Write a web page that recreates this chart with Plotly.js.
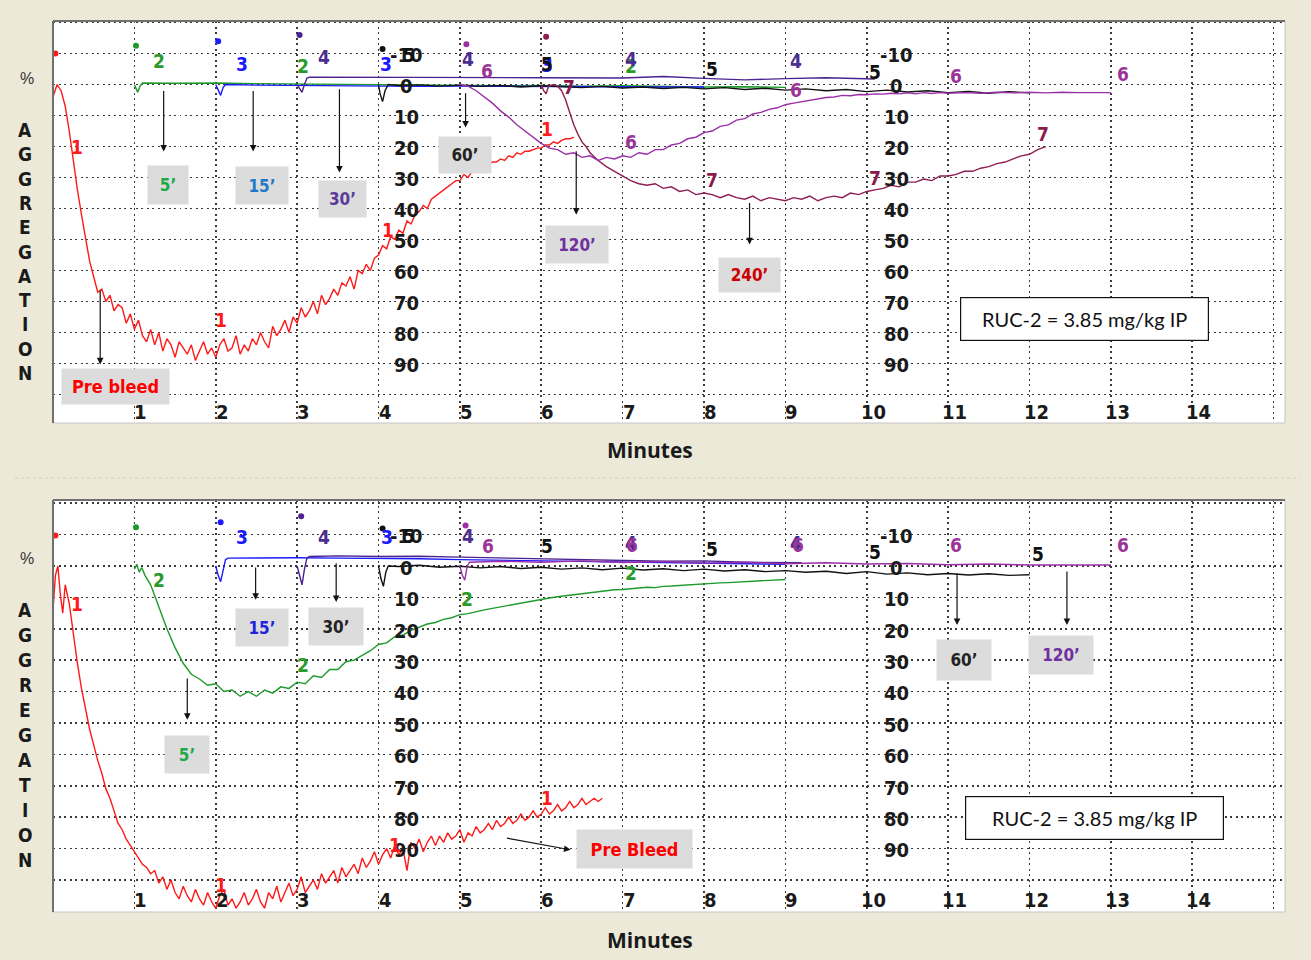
<!DOCTYPE html>
<html><head><meta charset="utf-8">
<script src="https://cdn.plot.ly/plotly-3.0.1.min.js"></script>
<style>html,body{margin:0;padding:0;background:#ECE9D8;} #chart{width:1311px;height:960px;}</style>
</head><body><div id="chart"></div>
<script>
// ---------------- DATA ----------------
// x tick labels (minutes) and aggregation scale labels
const xTickLabels = ['1','2','3','4','5','6','7','8','9','10','11','12','13','14'];
const xTickVals = [1,2,3,4,5,6,7,8,9,10,11,12,13,14];
const aggScaleLabels = ['-10','0','10','20','30','40','50','60','70','80','90'];
const aggScaleVals = [-10,0,10,20,30,40,50,60,70,80,90];

// ===== TOP PANEL =====
// Curve 1 (Pre bleed), sampled every 0.05 min from 0
const top1T0 = 0, top1Dt = 0.05;
const top1Y = [4,0,2,7,15,25,34,42,50,57,
 62,67,66,70,68,73,71,72,77,74,
 79,76,81,83,79,84,80,86,82,84,
 88,83,85,87,84,89,86,83,87,85,
 88,84,82,86,85,81,87,84,86,82,
 84,80,83,85,78,81,79,76,80,75,
 77,72,75,73,70,74,68,71,69,66,
 68,64,65,62,66,60,61,58,60,56,
 55,52,53,49,50,47,48,44,45,42,
 41,39,40,37,36,35,34,33,32,31,
 31,29,30,28,28,27,26,26,25,25,
 24,24.5,23,23.5,22,22.5,21.5,21.5,21,20.5,
 20.5,19.5,19.5,18.5,19,18,17.5,17.5,17];
// Curve 2 (5')
const top2X = [1.0,1.02,1.04,1.07,1.1,1.5,2.0,2.5,3.0,3.5,4.0,4.5,5.0,5.5,6.0,6.5,7.0,7.5,8.0,8.5,9.0];
const top2Y = [0,1.5,2.5,0.5,-0.5,-0.4,-0.5,-0.3,-0.2,0,0.2,0.3,0.2,0.4,0.3,0.5,0.4,0.6,0.8,0.7,0.9];
// Curve 3 (15')
const top3X = [2.0,2.03,2.06,2.09,2.12,2.5,3,3.5,4,4.5,5,5.5,6,6.5,7,7.5,8];
const top3Y = [0,2,3.5,1,0,0.2,0.3,0.5,0.5,0.6,0.5,0.6,0.7,0.6,0.7,0.8,0.8];
// Curve 4 (30')
const top4X = [3.0,3.03,3.06,3.09,3.12,3.15,4,5,6,7,7.5,8,8.5,9,9.5,10.1];
const top4Y = [0,1.5,2.5,0,-2,-2.4,-2.4,-2.3,-2.2,-2.1,-2.6,-2.0,-1.5,-1.9,-2.2,-1.8];
// Curve 5 (60')
const top5X = [4.0,4.02,4.05,4.08,4.12,4.25,4.5,4.75,5,5.25,5.5,5.75,6,6.25,6.5,6.75,7,7.25,7.5,7.75,8,8.25,8.5,8.75,9,9.25,9.5,9.75,10,10.25,10.5,10.75,11,11.25,11.5,11.75,12];
const top5Y = [0,3,5.5,2,0,0.3,0.1,0.5,0.2,0.6,0.3,0.8,0.4,0.7,1.0,0.6,1.1,0.8,1.3,0.9,1.4,1.0,1.6,1.2,1.8,1.4,2.0,1.6,2.3,1.8,2.4,2.0,2.6,2.2,2.8,2.3,2.7];
// Curve 6 (120')
const top6X = [5.0,5.1,5.2,5.3,5.4,5.5,5.6,5.7,5.8,5.9,6.0,6.1,6.2,6.3,6.4,6.5,6.6,6.7,6.8,6.9,7.0,7.1,7.2,7.3,7.4,7.5,7.6,7.7,7.8,7.9,8.0,8.1,8.2,8.3,8.4,8.5,8.6,8.7,8.8,8.9,9.0,9.1,9.2,9.3,9.4,9.5,9.6,9.7,9.8,9.9,10.0,10.1,10.2,10.3,10.4,10.5,10.6,10.7,10.8,10.9,11.0,11.2,11.4,11.6,11.8,12.0,12.2,12.4,12.6,12.8,13.0];
const top6Y = [0,0.5,2,4,6,8.5,10.5,13,15,17,19,20.5,21,22.5,22,23.5,23,24.5,23.5,24,23,23.5,22,22.5,21,21,19.5,19,17.5,17,15.5,15,13.5,13,11.5,11,9.5,9,8,7.5,6.5,6,5.5,5,4.5,4.2,4,3.5,3.6,3.2,3.3,3,3.1,2.8,3,2.7,3,2.6,2.9,2.6,2.8,2.6,2.8,2.5,2.7,2.5,2.7,2.5,2.6,2.5,2.6];
// Curve 7 (240')
const top7X = [6.0,6.03,6.06,6.09,6.15,6.2,6.25,6.3,6.35,6.4,6.45,6.5,6.55,6.6,6.7,6.8,6.9,7.0,7.1,7.2,7.3,7.4,7.5,7.6,7.7,7.8,7.9,8.0,8.1,8.2,8.3,8.4,8.5,8.6,8.7,8.8,8.9,9.0,9.1,9.2,9.3,9.4,9.5,9.6,9.7,9.8,9.9,10.0,10.1,10.2,10.3,10.4,10.5,10.6,10.7,10.8,10.9,11.0,11.1,11.2,11.3,11.4,11.5,11.6,11.7,11.8,11.9,12.0,12.1,12.2];
const top7Y = [0,2,3,0.5,0,0.5,2,5,9,13,16,18.5,20,22,24.5,26.5,28,29.5,31,32,32.5,32,33.5,33,34.5,34,35.5,35,35.5,36.5,35.5,36.5,37,36,37.5,36.5,37,37.5,36.5,37,36,37.5,36.5,36,36.5,35,35.5,34.5,34,33.5,32.5,33,31.5,31.5,30.5,31,29.5,29.5,29,28,28,27,26.5,25.5,25,24,23,22.5,21,20];
// start markers
const topStartX = [0.03,1.02,2.03,3.03,4.05,5.08,6.06];
const topStartY = [-10,-12.5,-14,-16,-11.5,-13,-15.4];
// curve number labels
const topLabText = ['1','1','1','1','2','2','2','3','3','3','4','4','4','4','5','5','5','5','6','6','6','6','6','7','7','7','7'];
const topLabX = [0.3,2.06,4.12,6.07,1.3,3.07,7.1,2.32,4.09,6.07,3.33,5.1,7.1,9.13,4.38,6.07,8.1,10.1,5.33,7.1,9.13,11.1,13.15,6.34,8.1,10.1,12.16];
const topLabY = [20,76,47,14.5,-7.6,-6,-6,-6.7,-6.7,-6.2,-9,-8.3,-8.3,-7.6,-9.5,-6.5,-5,-4,-4.4,18.4,1.8,-2.8,-3.4,0.8,30.7,30,16];
const topLabSeries = [0,0,0,0,1,1,1,2,2,2,3,3,3,3,4,4,4,4,5,5,5,5,5,6,6,6,6];
// time-point boxes (text, box centre, arrow tail, arrow head)
const topBoxText = ['Pre bleed','5’','15’','30’','60’','120’','240’'];
const topBoxX = [0.77,1.41,2.57,3.56,5.06,6.44,8.56];
const topBoxY = [97.4,32.3,32.6,37,22.6,51.6,61.6];
const topArrowX = [0.58,1.36,2.46,3.52,5.07,6.43,8.56];
const topArrowY0 = [66,1.6,1.6,1,2.3,21,37.7];
const topArrowY1 = [90.3,21.6,21.6,28.4,13.9,42,51.6];

// ===== BOTTOM PANEL =====
const bot1HeadX = [0,0.03,0.06,0.09,0.12,0.15];
const bot1HeadY = [14,3,0,9,15,6];
const bot1T0 = 0.2, bot1Dt = 0.05;
const bot1Y = [12,22,31,39,46,52,57,62,66,71,
 74,78,82,84,87,89,91,93,95,96,
 98,97,101,99,103,100,104,106,102,105,
 107,103,106,108,104,107,109,105,103,108,
 106,109,107,104,108,106,103,107,109,104,
 106,102,107,104,101,105,103,99,104,102,
 100,103,98,101,99,97,101,96,99,97,
 95,98,93,96,94,91,95,92,90,93,
 89,92,90,97,88,90,87,91,88,86,
 89,86,88,85,87,86,84,88,85,86,
 83,85,84,82,84,81,83,82,80,82,
 81,79,81,80,78,80,79,77,79,78,
 76,78,77,75,77,76,74,76,75,74,
 75,74];
const bot2HeadX = [1.0,1.03,1.06,1.09,1.13,1.17];
const bot2HeadY = [1,-0.5,2,0.5,3,5];
const bot2T0 = 1.2, bot2Dt = 0.1;
const bot2Y = [6,13,20,26,31,34.5,36,38,37.5,40,
 39.5,41.5,40,41.5,39.5,40.5,38.5,39,37,37.5,
 35,35.5,33,33,30.5,30,28.5,27,25,24.5,
 22.5,22,20.5,19.5,18.5,18,17,16.5,15.5,15.2,
 14.5,14,13.5,13,12.5,12.2,11.5,11.2,10.5,10.2,
 9.8,9.5,9,8.8,8.5,8.2,8,7.6,7.5,7.2,
 7,6.8,6.9,6.5,6.4,6.2,6,5.9,5.7,5.6,
 5.4,5.3,5.1,5,4.8,4.7,4.6,4.4,4.3];
const bot3X = [2.0,2.03,2.06,2.09,2.12,2.15,2.5,3,3.5,4,4.5,5,5.5,6,6.5,7,7.5,8,8.5,9];
const bot3Y = [0,3,5,1,-2,-2.5,-2.6,-2.6,-2.5,-2.5,-2.3,-2.0,-1.8,-1.5,-1.4,-1.2,-1.0,-0.8,-0.6,-0.5];
const bot4X = [3.0,3.03,3.06,3.09,3.12,3.15,3.5,4,4.5,5,5.5,6,6.5,7,7.5,8,8.5,9.2];
const bot4Y = [0,3,6,1,-2.5,-3,-3.2,-3,-3.1,-2.8,-2.5,-2.2,-2,-1.8,-1.5,-1.6,-1.2,-1];
const bot5X = [4.0,4.03,4.06,4.09,4.12,4.25,4.5,4.75,5,5.25,5.5,5.75,6,6.25,6.5,6.75,7,7.25,7.5,7.75,8,8.25,8.5,8.75,9,9.25,9.5,9.75,10,10.25,10.5,10.75,11,11.25,11.5,11.75,12];
const bot5Y = [0,4,6.5,2,0,0.2,-0.2,0.4,0.1,0.6,0.2,0.8,0.4,1.0,0.6,1.2,0.7,1.3,0.9,1.5,1.0,1.6,1.2,1.8,1.5,2.0,1.7,2.4,1.8,2.6,2.2,2.8,2.4,2.9,2.5,3.0,2.8];
const bot6X = [5.0,5.03,5.06,5.09,5.12,5.5,6,6.5,7,7.5,8,8.5,9,9.5,10,10.5,11,11.5,12,12.5,13];
const bot6Y = [0,3,4.5,0,-1.2,-1.5,-1.2,-1.6,-1.1,-1.4,-0.9,-1.2,-0.7,-1.0,-0.6,-0.8,-0.4,-0.6,-0.3,-0.4,-0.3];
const botStartX = [0.03,1.02,2.06,3.05,4.05,5.07];
const botStartY = [-9.7,-12.3,-13.9,-15.8,-11.9,-12.9];
const botLabText = ['1','1','1','1','2','2','2','2','3','3','4','4','4','4','5','5','5','5','5','6','6','6','6','6'];
const botLabX = [0.3,2.06,4.2,6.07,1.3,3.07,5.09,7.1,2.32,4.1,3.33,5.1,7.1,9.13,4.38,6.07,8.1,10.1,12.1,5.35,7.12,9.15,11.1,13.15];
const botLabY = [12,101.5,89,74,4.5,31.5,10.5,2.3,-9.3,-9.3,-9.3,-9.6,-7.2,-7.2,-9.5,-6.5,-5.3,-4.3,-3.9,-6.5,-6.7,-6.7,-6.7,-6.7];
const botLabSeries = [0,0,0,0,1,1,1,1,2,2,3,3,3,3,4,4,4,4,4,5,5,5,5,5];
const botBoxText = ['15’','30’','5’','60’','120’','Pre Bleed'];
const botBoxX = [2.57,3.48,1.65,11.2,12.39,7.14];
const botBoxY = [19.7,19.4,60.2,30,28.3,90.1];
const botArrowX0 = [2.49,3.48,1.65,11.11,12.46,5.56];
const botArrowY0 = [0,-1.3,35.4,1.9,1.3,86.6];
const botArrowX1 = [2.49,3.48,1.65,11.11,12.46,6.36];
const botArrowY1 = [10.8,11.5,49,18.8,18.8,90.4];

const doseText = 'RUC-2 = 3.85 mg/kg IP';
const yLetters = ['A','G','G','R','E','G','A','T','I','O','N'];

// ---------------- STYLE ----------------
const seriesColor = ['#FF1A1A','#1E9A2A','#1A1AFF','#4A2390','#111111','#9B2FA6','#8E1E52'];
const labelColor  = ['#FF1A1A','#2A9A2A','#1A1AFF','#4B2C8F','#111111','#9B3399','#8B1A4B'];
const topBoxColor = ['#FF0000','#1FA84A','#1F78C8','#5B3A99','#222222','#7030A0','#CC0000'];
const botBoxColor = ['#2222DD','#222222','#1FA84A','#222222','#7030A0','#FF0000'];
const NARROW = '"Liberation Sans Narrow","DejaVu Sans Condensed","Arial Narrow",sans-serif';
const W = 1311, H = 960;
const px = v => v / W, py = v => 1 - v / H;

function seq(t0, dt, n){ const a=[]; for(let i=0;i<n;i++) a.push(+(t0+i*dt).toFixed(4)); return a; }

const traces = [];
function line(x, y, s, xa, ya){
  traces.push({type:'scatter', mode:'lines', x:x, y:y, xaxis:xa, yaxis:ya,
    line:{color:seriesColor[s], width:1.4}, hoverinfo:'skip', showlegend:false});
}
// top
line(seq(top1T0, top1Dt, top1Y.length), top1Y, 0, 'x', 'y');
line(top2X, top2Y, 1, 'x', 'y');
line(top3X, top3Y, 2, 'x', 'y');
line(top4X, top4Y, 3, 'x', 'y');
line(top5X, top5Y, 4, 'x', 'y');
line(top7X, top7Y, 6, 'x', 'y');
line(top6X, top6Y, 5, 'x', 'y');
traces.push({type:'scatter', mode:'markers', x:topStartX, y:topStartY, xaxis:'x', yaxis:'y',
  marker:{color:seriesColor.slice(0,7), size:6}, hoverinfo:'skip', showlegend:false});
// bottom
line(bot1HeadX.concat(seq(bot1T0, bot1Dt, bot1Y.length)), bot1HeadY.concat(bot1Y), 0, 'x2', 'y2');
line(bot2HeadX.concat(seq(bot2T0, bot2Dt, bot2Y.length)), bot2HeadY.concat(bot2Y), 1, 'x2', 'y2');
line(bot3X, bot3Y, 2, 'x2', 'y2');
line(bot4X, bot4Y, 3, 'x2', 'y2');
line(bot5X, bot5Y, 4, 'x2', 'y2');
line(bot6X, bot6Y, 5, 'x2', 'y2');
traces.push({type:'scatter', mode:'markers', x:botStartX, y:botStartY, xaxis:'x2', yaxis:'y2',
  marker:{color:seriesColor.slice(0,6), size:6}, hoverinfo:'skip', showlegend:false});

const ann = [];
const panels = [
  {xr:'x', yr:'y', tickY:105.5, top:21, bottom:423},
  {xr:'x2', yr:'y2', tickY:106.5, top:500, bottom:912}
];
panels.forEach((p, pi) => {
  xTickVals.forEach((v,i) => ann.push({xref:p.xr, yref:p.yr, x:v+0.08, y:p.tickY, text:'<b>'+xTickLabels[i]+'</b>',
    showarrow:false, font:{family:NARROW, size:20, color:'#1a1a1a'}}));
  [4.34, 10.37].forEach(cx => aggScaleVals.forEach((v,i) => ann.push({xref:p.xr, yref:p.yr, x:cx, y:v+0.6,
    text:'<b>'+aggScaleLabels[i]+'</b>', showarrow:false, font:{family:NARROW, size:20, color:'#1a1a1a'}})));
  // % and AGGREGATION letters
  ann.push({xref:'paper', yref:'paper', x:px(27), y:py(pi===0?78:558), text:'%', showarrow:false,
    font:{family:'Liberation Sans, Arial, sans-serif', size:16, color:'#333'}});
  const l0 = pi===0?130:610, ld = pi===0?24.3:25;
  yLetters.forEach((L,i) => ann.push({xref:'paper', yref:'paper', x:px(25), y:py(l0+i*ld), text:'<b>'+L+'</b>',
    showarrow:false, font:{family:NARROW, size:19, color:'#1a1a1a'}}));
  ann.push({xref:'paper', yref:'paper', x:px(650), y:py(pi===0?450:940), text:'<b>Minutes</b>', showarrow:false,
    font:{family:'"Open Sans","DejaVu Sans",sans-serif', size:21, color:'#1a1a1a'}});
});
// curve labels
topLabText.forEach((t,i) => ann.push({xref:'x', yref:'y', x:topLabX[i], y:topLabY[i], text:'<b>'+t+'</b>', showarrow:false,
  font:{family:NARROW, size:19, color:labelColor[topLabSeries[i]]}}));
botLabText.forEach((t,i) => ann.push({xref:'x2', yref:'y2', x:botLabX[i], y:botLabY[i], text:'<b>'+t+'</b>', showarrow:false,
  font:{family:NARROW, size:19, color:labelColor[botLabSeries[i]]}}));
// arrows
topArrowX.forEach((x,i) => ann.push({xref:'x', yref:'y', axref:'x', ayref:'y', x:x, y:topArrowY1[i], ax:x, ay:topArrowY0[i],
  text:'', showarrow:true, arrowhead:2, arrowsize:1.1, arrowwidth:1.2, arrowcolor:'#111'}));
botArrowX0.forEach((x,i) => ann.push({xref:'x2', yref:'y2', axref:'x2', ayref:'y2', x:botArrowX1[i], y:botArrowY1[i], ax:x, ay:botArrowY0[i],
  text:'', showarrow:true, arrowhead:2, arrowsize:1.1, arrowwidth:1.2, arrowcolor:'#111'}));
// boxes
const topBoxW = [105,38,50,45,50,60,59], topBoxH = [33,36,35,34,34,35,32];
topBoxText.forEach((t,i) => ann.push({xref:'x', yref:'y', x:topBoxX[i], y:topBoxY[i], text:'<b>'+t+'</b>', showarrow:false,
  width:topBoxW[i], height:topBoxH[i], bgcolor:'#DCDCDC', font:{family:NARROW, size:i===0?18:17, color:topBoxColor[i]}}));
const botBoxW = [50,52,42,52,62,113], botBoxH = [35,35,35,38,36,36];
botBoxText.forEach((t,i) => ann.push({xref:'x2', yref:'y2', x:botBoxX[i], y:botBoxY[i], text:'<b>'+t+'</b>', showarrow:false,
  width:botBoxW[i], height:botBoxH[i], bgcolor:'#DCDCDC', font:{family:NARROW, size:i===5?18:17, color:botBoxColor[i]}}));
// dose boxes
ann.push({xref:'x', yref:'y', x:12.67, y:75.5, text:doseText, showarrow:false, width:245, height:40, bgcolor:'#fff',
  bordercolor:'#111', borderwidth:1.2, font:{family:'Lato, "Open Sans", sans-serif', size:20, color:'#111'}});
ann.push({xref:'x2', yref:'y2', x:12.8, y:80.3, text:doseText, showarrow:false, width:255, height:40, bgcolor:'#fff',
  bordercolor:'#111', borderwidth:1.2, font:{family:'Lato, "Open Sans", sans-serif', size:20, color:'#111'}});
// force centred anchoring everywhere
ann.forEach(a => { a.xanchor = 'center'; a.yanchor = 'middle'; });

const shapes = [];
panels.forEach(p => {
  shapes.push({type:'rect', xref:'paper', yref:'paper', x0:px(53), x1:px(1285), y0:py(p.bottom), y1:py(p.top),
    line:{color:'#C4C4C4', width:1}, layer:'below'});
  shapes.push({type:'line', xref:'paper', yref:'paper', x0:px(53), x1:px(1285), y0:py(p.top), y1:py(p.top), line:{color:'#707070', width:2}});
  shapes.push({type:'line', xref:'paper', yref:'paper', x0:px(53), x1:px(53), y0:py(p.bottom), y1:py(p.top), line:{color:'#707070', width:2}});
});
shapes.push({type:'line', xref:'paper', yref:'paper', x0:px(15), x1:px(1300), y0:py(478), y1:py(478), line:{color:'#D2CEBE', width:1, dash:'dot'}});

const grid = {showgrid:true, gridcolor:'#3a3a3a', gridwidth:1.6, griddash:'2px,3.5px', zeroline:false,
  showticklabels:false, ticks:'', showline:false, fixedrange:true};
const xdom = [px(53), px(1285)];
const layout = {
  width:W, height:H, margin:{l:0,r:0,t:0,b:0},
  paper_bgcolor:'#ECE9D8', plot_bgcolor:'#FFFFFF', showlegend:false,
  xaxis: Object.assign({}, grid, {domain:xdom, range:[0,15.14], dtick:1, tick0:0, anchor:'y'}),
  yaxis: Object.assign({}, grid, {domain:[py(423), py(21)], range:[109.2,-20.5], dtick:10, tick0:0, anchor:'x'}),
  xaxis2: Object.assign({}, grid, {domain:xdom, range:[0,15.14], dtick:1, tick0:0, anchor:'y2'}),
  yaxis2: Object.assign({}, grid, {domain:[py(912), py(500)], range:[110.2,-21], dtick:10, tick0:0, anchor:'x2'}),
  annotations: ann, shapes: shapes
};
Plotly.newPlot('chart', traces, layout, {staticPlot:true, displayModeBar:false});
</script></body></html>
